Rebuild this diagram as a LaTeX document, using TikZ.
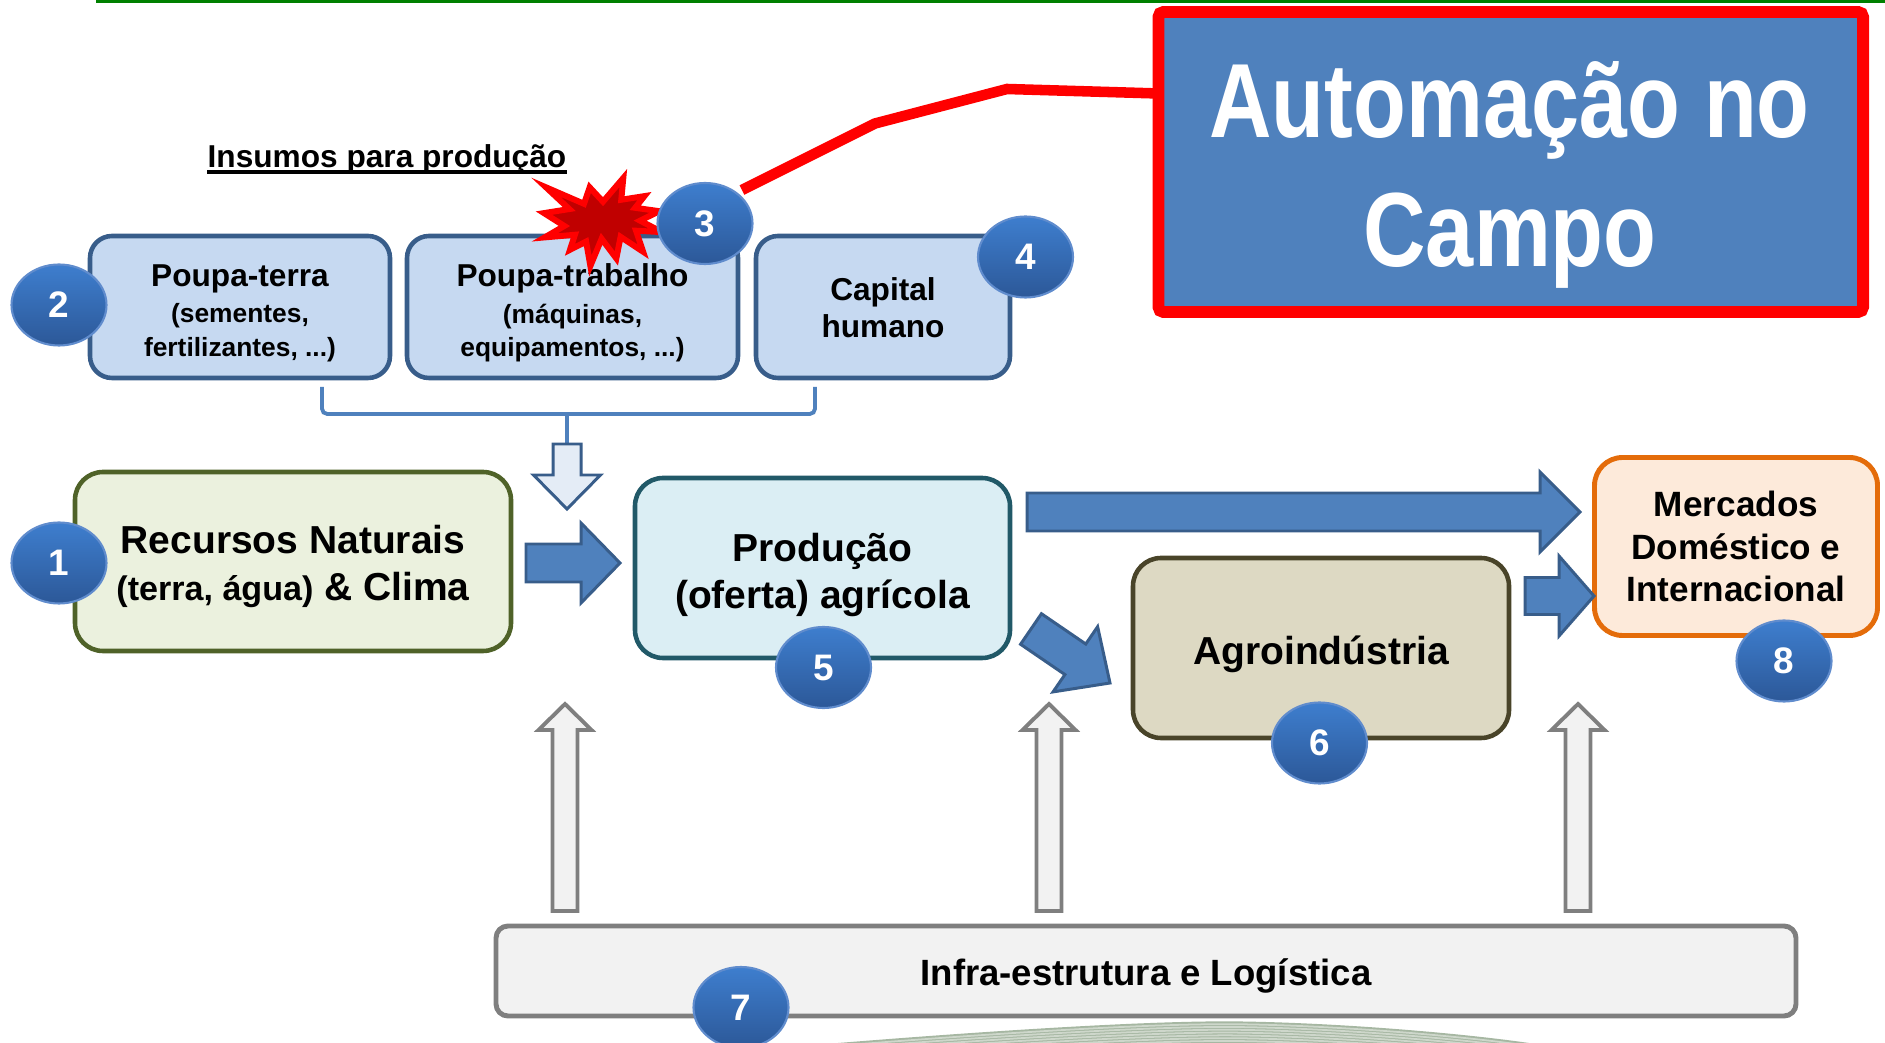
\documentclass[tikz,border=0pt]{standalone}
\usepackage{fontspec}
\setmainfont{Liberation Sans}
\newfontfamily\titlefont{Liberation Sans}[FakeStretch=0.82]
\usetikzlibrary{calc,shapes.geometric}
\definecolor{inputfill}{RGB}{198,217,241}
\definecolor{inputdraw}{RGB}{56,93,138}
\definecolor{recfill}{RGB}{235,241,222}
\definecolor{recdraw}{RGB}{79,98,40}
\definecolor{prodfill}{RGB}{219,238,244}
\definecolor{proddraw}{RGB}{33,89,104}
\definecolor{agrofill}{RGB}{221,217,195}
\definecolor{agrodraw}{RGB}{73,68,41}
\definecolor{mercfill}{RGB}{253,234,218}
\definecolor{mercdraw}{RGB}{228,108,10}
\definecolor{infrafill}{RGB}{242,242,242}
\definecolor{infradraw}{RGB}{127,127,127}
\definecolor{arrowfill}{RGB}{79,129,189}
\definecolor{arrowdraw}{RGB}{56,93,138}
\definecolor{hollowfill}{RGB}{228,236,246}
\definecolor{badgetop}{RGB}{62,126,206}
\definecolor{badgebot}{RGB}{44,88,152}
\definecolor{badgerim}{RGB}{96,140,205}
\definecolor{burstfill}{RGB}{192,0,0}
\definecolor{hillgreen}{RGB}{166,183,162}
\newcommand{\blockarrow}[6][]{%
  \draw[#1] ($(#2)!#4!90:(#3)$) -- ($(#3)!#6!(#2)!#4!-90:(#2)$)
    -- ($(#3)!#6!(#2)!#5!-90:(#2)$) -- (#3)
    -- ($(#3)!#6!(#2)!#5!90:(#2)$) -- ($(#3)!#6!(#2)!#4!90:(#2)$)
    -- ($(#2)!#4!-90:(#3)$) -- cycle;}
\tikzset{
  box/.style={draw, rounded corners=0.28cm, line width=1.3pt, inner sep=0pt, outer sep=0pt},
  inbox/.style={box, rounded corners=0.22cm, fill=inputfill, draw=inputdraw, minimum width=#1, minimum height=1.42cm},
  boxtext/.style={align=center, inner sep=0pt, font=\bfseries\fontsize{11.1}{13.4}\selectfont},
  intext/.style={boxtext, font=\bfseries\fontsize{7.5}{9.45}\selectfont},
  bluearrow/.style={fill=arrowfill, draw=arrowdraw, line width=0.85pt},
  downarrow/.style={fill=hollowfill, draw=arrowdraw, line width=0.85pt},
  grayarrow/.style={fill=infrafill, draw=infradraw, line width=1.1pt},
  bracket/.style={arrowfill, line width=1.1pt, rounded corners=1.5pt},
  badge/.style={ellipse, minimum width=0.95cm, minimum height=0.81cm, inner sep=0pt, top color=badgetop,
    bottom color=badgebot, draw=badgerim, line width=0.6pt, text=white, font=\bfseries\fontsize{10.5}{12}\selectfont},
  titletext/.style={text=white, inner sep=0pt, font=\titlefont\bfseries\fontsize{30}{36}\selectfont},
  redlink/.style={red, line width=3pt, shorten <=1.5pt}
}
\begin{document}
\begin{tikzpicture}[line join=miter]
\useasboundingbox (0,0) rectangle (18.85,-10.43);
\draw[green!50!black, line width=0.9pt] (0.96,-0.015) -- (18.85,-0.015);

\node[box, fill=arrowfill, draw=red, line width=3.4pt, rounded corners=0.05cm, minimum width=7.045cm, minimum height=3cm] (auto) at (15.1075,-1.62) {};
\node[titletext, anchor=base] (t1) at (15.095,-1.38) {Automação no};
\node[titletext, anchor=base] (t2) at (15.10,-2.67) {Campo};

\node[font=\bfseries\fontsize{9}{11}\selectfont, anchor=base west, inner sep=0pt] (ins) at (2.07,-1.677) {Insumos para produção};
\draw[line width=1pt] ($(ins.base west)+(0,-0.045)$) -- ($(ins.base east)+(0,-0.045)$);

\node[inbox=3cm] (pterra) at (2.40,-3.07) {};
\node[inbox=3.31cm] (ptrab) at (5.725,-3.07) {};
\node[inbox=2.54cm] (capital) at (8.83,-3.07) {};
\node[box, fill=recfill, draw=recdraw, minimum width=4.36cm, minimum height=1.79cm] (rec) at (2.93,-5.615) {};
\node[box, fill=prodfill, draw=proddraw, minimum width=3.75cm, minimum height=1.8cm] (prod) at (8.225,-5.68) {};
\node[box, fill=agrofill, draw=agrodraw, minimum width=3.76cm, minimum height=1.8cm] (agro) at (13.21,-6.48) {};
\node[box, fill=mercfill, draw=mercdraw, line width=1.4pt, minimum width=2.83cm, minimum height=1.78cm] (merc) at (17.36,-5.465) {};
\node[box, fill=infrafill, draw=infradraw, line width=1.4pt, rounded corners=0.12cm, minimum width=13cm, minimum height=0.9cm] (infra) at (11.46,-9.71) {};

\coordinate (bl) at (3.22,-3.87);
\coordinate (br) at (8.15,-3.87);
\coordinate (bm) at (5.67,-4.14);
\coordinate (bt) at (5.67,-4.44);
\coordinate (dt) at (5.67,-5.09);
\draw[bracket] (bl) |- (bm) -| (br);
\draw[bracket] (bm) -- (bt);
\blockarrow[downarrow]{bt}{dt}{0.14cm}{0.335cm}{0.34cm}

\coordinate (a1) at ($(rec.east)+(0.15,-0.015)$);
\coordinate (a2) at ($(prod.west)+(-0.15,0.05)$);
\coordinate (b1) at ($(prod.east)+(0.17,0.56)$);
\coordinate (b2) at ($(merc.west)+(-0.145,0.345)$);
\coordinate (c1) at ($(agro.east)+(0.16,0.52)$);
\coordinate (c2) at ($(merc.west)+(-0.005,-0.495)$);
\coordinate (d1) at ($(prod.east)+(0.21,-0.61)$);
\coordinate (d2) at ($(agro.west)+(-0.23,-0.35)$);
\blockarrow[bluearrow]{a1}{a2}{0.19cm}{0.40cm}{0.39cm}
\blockarrow[bluearrow]{b1}{b2}{0.19cm}{0.40cm}{0.40cm}
\blockarrow[bluearrow]{c1}{c2}{0.185cm}{0.40cm}{0.35cm}
\blockarrow[bluearrow]{d1}{d2}{0.185cm}{0.395cm}{0.42cm}

\foreach \dx [count=\i] in {0.69,5.53,10.82}{
  \coordinate (g\i-s) at ($(infra.north west)+(\dx,0.15)$);
  \coordinate (g\i-t) at ($(infra.north west)+(\dx,2.22)$);
  \blockarrow[grayarrow]{g\i-s}{g\i-t}{0.125cm}{0.265cm}{0.26cm}
}

\node[intext] (pterra-t) at ([yshift=-0.06cm]pterra.center) {{\fontsize{9}{9.7}\selectfont Poupa-terra}\\[1pt](sementes,\\fertilizantes, ...)};
\node[intext] (ptrab-t) at ([yshift=-0.06cm]ptrab.center) {{\fontsize{9}{9.7}\selectfont Poupa-trabalho}\\[1pt](máquinas,\\equipamentos, ...)};
\node[intext, font=\bfseries\fontsize{9}{10.5}\selectfont] (capital-t) at ([yshift=-0.01cm]capital.center) {Capital\\humano};
\node[boxtext] (rec-t) at ([yshift=-0.05cm]rec.center) {Recursos Naturais\\{\fontsize{9.7}{13.4}\selectfont(terra, água)} \& Clima};
\node[boxtext] (prod-t) at ([yshift=-0.07cm]prod.center) {Produção\\(oferta) agrícola};
\node[boxtext] (agro-t) at ([yshift=-0.06cm]agro.center) {Agroindústria};
\node[boxtext, font=\bfseries\fontsize{10}{12.1}\selectfont] (merc-t) at (merc.center) {Mercados\\Doméstico e\\Internacional};
\node[boxtext, font=\bfseries\fontsize{10.4}{12}\selectfont] (infra-t) at ([yshift=-0.05cm]infra.center) {Infra-estrutura e Logística};

\begin{scope}[shift={(5.44,-1.78)}, x=1.18cm, y=-0.88cm]
\draw[fill=burstfill, draw=red, line width=1.7pt] plot coordinates {(0.500,0.269) (0.672,0) (0.655,0.247) (0.851,0.206)
  (0.773,0.339) (0.977,0.377) (0.815,0.485) (1,0.615) (0.780,0.599) (0.840,0.838) (0.649,0.669) (0.613,0.914)
  (0.488,0.691) (0.393,1) (0.357,0.723) (0.220,0.816) (0.262,0.645) (0.006,0.675) (0.172,0.545) (0,0.399)
  (0.214,0.353) (0.017,0.106) (0.339,0.293) (0.387,0.106)} -- cycle;
\end{scope}

\begin{scope}
\clip (8.38,-10.43) .. controls (10.0,-10.30) and (11.6,-10.20) .. (12.43,-10.215)
  .. controls (13.4,-10.23) and (14.6,-10.33) .. (15.29,-10.43) -- cycle;
\fill[hillgreen] (8.3,-10.15) rectangle (15.4,-10.45);
\foreach \k in {1,...,7}
  \draw[white, opacity=0.45, line width=0.5pt, yshift=-\k*0.028cm] (8.38,-10.43) .. controls (10.0,-10.30) and (11.6,-10.20) .. (12.43,-10.215)
    .. controls (13.4,-10.23) and (14.6,-10.33) .. (15.29,-10.43);
\end{scope}

\node[badge] (n1) at (0.59,-5.63) {1};
\node[badge] (n2) at (0.59,-3.05) {2};
\node[badge] (n3) at (7.05,-2.235) {3};
\node[badge] (n4) at (10.255,-2.57) {4};
\node[badge] (n5) at (8.235,-6.675) {5};
\node[badge] (n6) at (13.195,-7.43) {6};
\node[badge] (n7) at (7.41,-10.075) {7};
\node[badge] (n8) at (17.84,-6.61) {8};

\draw[redlink] (n3.44) -- (8.75,-1.235) -- (10.07,-0.89) -- ($(auto.north west)+(0,-0.815)$);
\end{tikzpicture}
\end{document}
